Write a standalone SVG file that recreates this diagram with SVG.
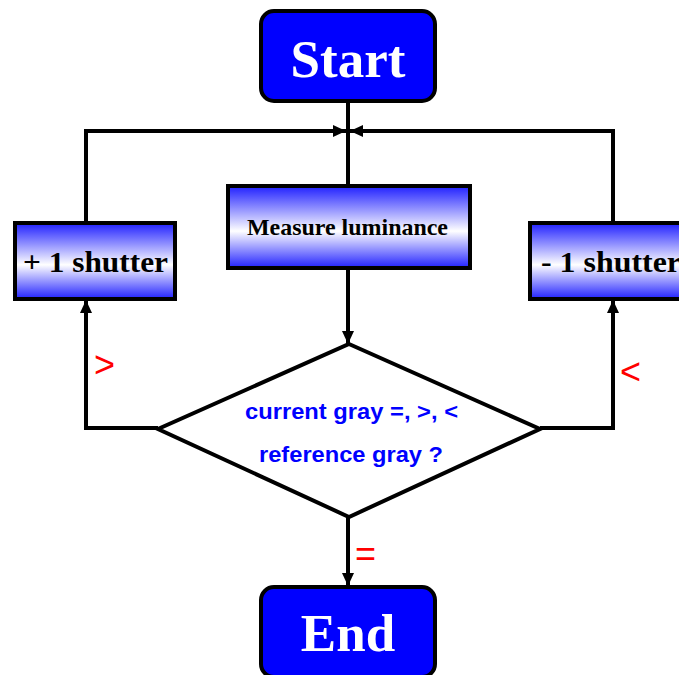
<svg xmlns="http://www.w3.org/2000/svg" width="679" height="675" viewBox="0 0 679 675">
  <defs>
    <linearGradient id="boxFill" x1="0" y1="0" x2="0" y2="1">
      <stop offset="0" stop-color="#2020ff"/>
      <stop offset="0.55" stop-color="#ffffff"/>
      <stop offset="1" stop-color="#2020ff"/>
    </linearGradient>
    <marker id="arrow" markerUnits="userSpaceOnUse" markerWidth="14" markerHeight="12" refX="13" refY="6" orient="auto">
      <path d="M0,0 L13,6 L0,12 Z" fill="#000"/>
    </marker>
  </defs>
  <style>
    .term { fill: #0000ff; stroke: #000; stroke-width: 4; }
    .term-text { font-family: "Liberation Serif", "Times New Roman", serif; font-weight: bold; font-size: 53px; fill: #fff; text-anchor: middle; }
    .proc { fill: url(#boxFill); stroke: #000; stroke-width: 4; }
    .proc-text { font-family: "Liberation Serif", "Times New Roman", serif; font-weight: bold; fill: #000; }
    .decision { fill: #fff; stroke: #000; stroke-width: 4; stroke-linejoin: miter; }
    .decision-text { font-family: "Liberation Sans", Arial, sans-serif; font-weight: bold; font-size: 22px; fill: #0000ff; }
    .edge { fill: none; stroke: #000; stroke-width: 4; }
    .edge-label { font-family: "Liberation Sans", Arial, sans-serif; font-size: 36px; fill: #ff0000; }
  </style>

  <g id="connectors">
    <path class="edge" d="M348,101 V186"/>
    <path class="edge" d="M86,222 V131 H346" marker-end="url(#arrow)"/>
    <path class="edge" d="M613,222 V131 H350" marker-end="url(#arrow)"/>
    <path class="edge" d="M348,268 V344" marker-end="url(#arrow)"/>
    <path class="edge" d="M158,428 H86 V300" marker-end="url(#arrow)"/>
    <path class="edge" d="M540,428 H613 V300" marker-end="url(#arrow)"/>
    <path class="edge" d="M348,517 V586" marker-end="url(#arrow)"/>
    <text class="edge-label" x="94" y="377">&gt;</text>
    <text class="edge-label" x="620" y="384">&lt;</text>
    <text class="edge-label" x="355" y="566">=</text>
  </g>

  <g id="start">
    <rect class="term" x="261" y="11" width="174" height="90" rx="13"/>
    <text class="term-text" x="348" y="77">Start</text>
  </g>

  <g id="measure">
    <rect class="proc" x="228" y="186" width="242" height="82"/>
    <text class="proc-text" x="247" y="235" font-size="23" textLength="201" lengthAdjust="spacingAndGlyphs">Measure luminance</text>
  </g>

  <g id="plus-shutter">
    <rect class="proc" x="15" y="223" width="160" height="76"/>
    <text class="proc-text" x="23" y="272" font-size="29" textLength="145" lengthAdjust="spacingAndGlyphs">+ 1 shutter</text>
  </g>

  <g id="minus-shutter">
    <rect class="proc" x="530" y="223" width="170" height="76"/>
    <text class="proc-text" x="541" y="272" font-size="29" textLength="140" lengthAdjust="spacingAndGlyphs">- 1 shutter</text>
  </g>

  <g id="compare">
    <polygon class="decision" points="349,344 540,429 349,517 158,429"/>
    <text class="decision-text" x="245" y="419" textLength="213" lengthAdjust="spacingAndGlyphs">current gray =, &gt;, &lt;</text>
    <text class="decision-text" x="259" y="462" textLength="184" lengthAdjust="spacingAndGlyphs">reference gray ?</text>
  </g>

  <g id="end">
    <rect class="term" x="261" y="587" width="174" height="90" rx="13"/>
    <text class="term-text" x="348" y="651">End</text>
  </g>
</svg>
